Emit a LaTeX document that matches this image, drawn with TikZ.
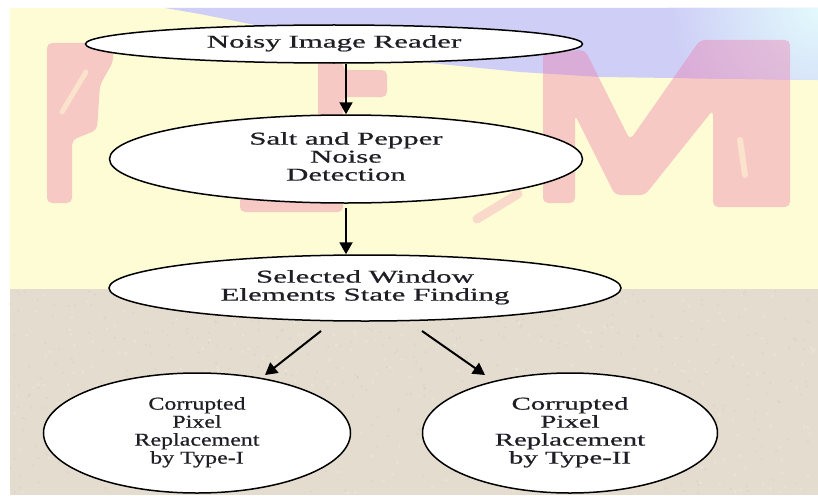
\documentclass[tikz,border=0pt]{standalone}
\usepackage{fontspec}
\setmainfont{Liberation Serif}[FakeBold=0.6]
\usetikzlibrary{shapes.geometric,arrows.meta,calc}

\definecolor{cream}{RGB}{254,252,213}
\definecolor{sand}{RGB}{228,221,207}
\definecolor{lav}{RGB}{206,206,246}
\definecolor{skycyan}{RGB}{226,250,252}
\definecolor{rosemark}{RGB}{238,120,170}
\definecolor{inkgray}{RGB}{30,30,36}

\tikzset{
  stage/.style={ellipse, draw=black, line width=1.5pt, fill=white, inner sep=0pt,
                text=inkgray, font=\fontsize{18}{18}\selectfont},
  flow/.style={-{Triangle[length=12pt,width=13pt]}, line width=2pt, black},
  wm/.style={fill=rosemark, fill opacity=0.38, rounded corners=5pt},
}

% centred block of lines, widened horizontally
\newcommand\widetext[2]{\raisebox{-2pt}{\scalebox{#1}[1]{\begin{tabular}{@{}c@{}}#2\end{tabular}}}}

\begin{document}
\begin{tikzpicture}[x=1pt,y=-1pt]
  \useasboundingbox (0,0) rectangle (818,495);
  \fill[white] (0,0) rectangle (818,495);

  % backdrop: cream upper part, sandy lower part
  \fill[cream] (10,8) rectangle (818,289);
  \fill[sand] (10,289) rectangle (818,495);
  \pgfmathsetseed{11}
  \foreach \i in {1,...,500}{
    \pgfmathsetmacro\xx{10+rnd*806}
    \pgfmathsetmacro\yy{291+rnd*202}
    \fill[sand!75!black, opacity=0.12] (\xx,\yy) circle (1.3pt);
  }
  \foreach \i in {1,...,300}{
    \pgfmathsetmacro\xx{10+rnd*806}
    \pgfmathsetmacro\yy{291+rnd*202}
    \fill[white, opacity=0.18] (\xx,\yy) circle (1.6pt);
  }

  % blue sky band along the top
  \begin{scope}
    \clip (165,8) -- (818,8) -- (818,80) -- (600,77) -- (520,72) -- (420,62)
          -- (330,45) -- (260,26) -- (200,14) -- cycle;
    \fill[lav] (150,0) rectangle (818,90);
    \shade[inner color=skycyan, outer color=lav] (818,8) circle (150pt);
  \end{scope}

  % faint lettering behind the chart
  \fill[wm] (47,43) -- (113,43) -- (113,62) -- (100,85) -- (97,130) -- (72,140)
            -- (72,203) -- (47,203) -- cycle;
  \draw[cream, line width=5pt, opacity=0.5, line cap=round] (62,112) -- (86,72);
  \fill[wm] (318,60) -- (343,60) -- (343,70) -- (387,70) -- (387,97) -- (343,97)
            -- (343,196) -- (343,212) -- (240,212) -- (240,196) -- (318,196) -- cycle;
  \draw[rosemark, opacity=0.25, line width=9pt, line cap=round] (477,219) -- (518,194);
  \fill[wm] (543,52) -- (585,50) -- (630,140) -- (700,40) -- (790,40) -- (790,207)
            -- (713,207) -- (713,110) -- (645,195) -- (615,195) -- (575,115)
            -- (575,203) -- (543,203) -- cycle;
  \draw[cream, line width=6pt, opacity=0.5, line cap=round] (740,140) -- (745,175);

  % stages
  \node[stage, minimum width=497pt, minimum height=38pt] (n1) at (334,44)
    {\widetext{1.72}{Noisy Image Reader}};
  \node[stage, minimum width=473pt, minimum height=88pt] (n2) at (346,159)
    {\widetext{1.71}{Salt and Pepper\\Noise\\Detection}};
  \node[stage, minimum width=512pt, minimum height=66pt] (n3) at (365,288)
    {\widetext{1.72}{Selected Window\\Elements State Finding}};
  \node[stage, minimum width=307pt, minimum height=120pt] (n4) at (197,433)
    {\widetext{1.33}{Corrupted\\Pixel\\Replacement\\by Type-I}};
  \node[stage, minimum width=295pt, minimum height=120pt] (n5) at (570,433)
    {\widetext{1.6}{Corrupted\\Pixel\\Replacement\\by Type-II}};

  % connectors
  \draw[flow] (n1.south -| n2.north) -- (n2.north);
  \draw[flow] ([yshift=-4pt]n2.south) -- (n2.south |- n3.north);
  \coordinate (l0) at (321,331);
  \coordinate (l1) at (265,375);
  \coordinate (r0) at (422,331);
  \coordinate (r1) at (485,375);
  \draw[flow] (l0) -- (l1);
  \draw[flow] (r0) -- (r1);
\end{tikzpicture}
\end{document}
